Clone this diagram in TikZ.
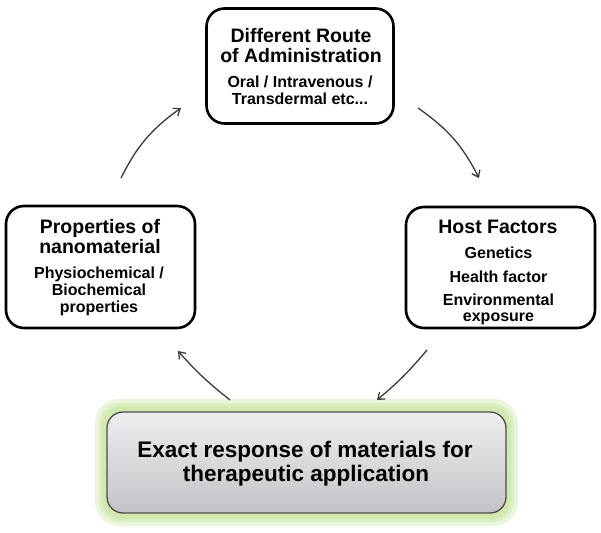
\documentclass[tikz,border=0pt]{standalone}
\usepackage{fontspec}
\setmainfont{Liberation Sans}
\usetikzlibrary{arrows.meta}
\definecolor{arrowgray}{HTML}{3A3A3A}
\definecolor{glowgreen}{HTML}{D3E9B0}
\definecolor{boxtop}{HTML}{EEEEF1}
\definecolor{boxbot}{HTML}{C4C4C8}
\tikzset{
  infobox/.style={draw=black, line width=2.6pt, rounded corners=18pt, fill=white, inner sep=0pt},
  ttl/.style={anchor=base, inner sep=0pt, font=\bfseries\fontsize{19.5}{22}\selectfont},
  sub/.style={anchor=base, inner sep=0pt, font=\bfseries\fontsize{16}{18}\selectfont},
  big/.style={anchor=base, inner sep=0pt, font=\bfseries\fontsize{22.5}{26}\selectfont},
  cyclearrow/.style={draw=arrowgray, line width=1.3pt, -{Straight Barb[length=6pt,width=9pt,line width=1.3pt]}},
}
\begin{document}
\begin{tikzpicture}[x=1pt,y=-1pt]
\useasboundingbox (0,0) rectangle (601,532);
% boxes
\node[infobox, minimum width=187pt, minimum height=115pt] (route) at (300,66) {};
\node[infobox, minimum width=189pt, minimum height=122pt] (props) at (100.5,267) {};
\node[infobox, minimum width=189pt, minimum height=121pt] (host) at (500.5,267.5) {};
% top box text
\node[ttl] (route1) at (301,43) {Different Route};
\node[ttl] (route2) at (301,63) {of Administration};
\node[sub] (route3) at (300,88) {Oral / Intravenous /};
\node[sub] (route4) at (300,104) {Transdermal etc...};
% left box text
\node[ttl] (props1) at (100,233) {Properties of};
\node[ttl] (props2) at (100,253) {nanomaterial};
\node[sub] (props3) at (99,278) {Physiochemical /};
\node[sub] (props4) at (99,295) {Biochemical};
\node[sub] (props5) at (99,312) {properties};
% right box text
\node[ttl] (host1) at (498,233) {Host Factors};
\node[sub] (host2) at (498.5,258) {Genetics};
\node[sub] (host3) at (498.5,282) {Health factor};
\node[sub] (host4) at (498.5,305) {Environmental};
\node[sub] (host5) at (498.5,321) {exposure};
% bottom box glow
\fill[glowgreen!45, rounded corners=24pt] (95,399) rectangle (518,526);
\fill[glowgreen!75, rounded corners=21pt] (99,403) rectangle (514,522);
\fill[glowgreen, rounded corners=19pt] (102,406) rectangle (511,519);
\node[draw=black!70, line width=1.3pt, rounded corners=16pt,
  minimum width=399pt, minimum height=101pt, top color=boxtop, bottom color=boxbot] (resp) at (306.5,462.5) {};
\node[big] (resp1) at (305,457) {Exact response of materials for};
\node[big] (resp2) at (306,481) {therapeutic application};
% arrows
\coordinate (a1s) at (121,178); \coordinate (a1e) at (181,108);
\coordinate (a2s) at (418,108); \coordinate (a2e) at (479,178);
\coordinate (a3s) at (427,350); \coordinate (a3e) at (377,400);
\coordinate (a4s) at (230,400); \coordinate (a4e) at (178,351);
\draw[cyclearrow] (a1s) to[bend left=14] (a1e);
\draw[cyclearrow] (a2s) to[bend left=14] (a2e);
\draw[cyclearrow] (a3s) to[bend left=5] (a3e);
\draw[cyclearrow] (a4s) to[bend left=5] (a4e);
\end{tikzpicture}
\end{document}
